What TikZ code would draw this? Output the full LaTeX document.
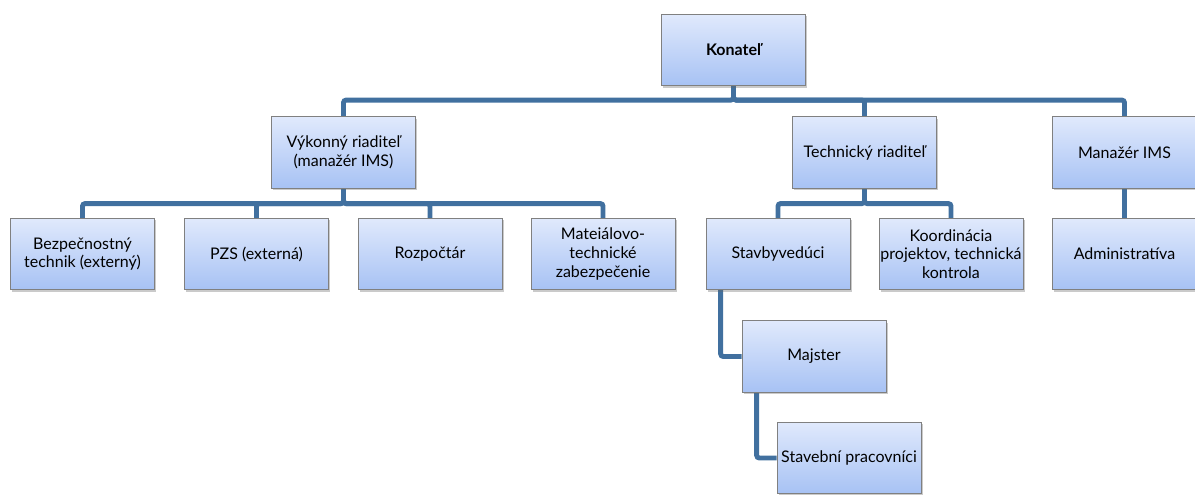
\documentclass[tikz,border=0pt]{standalone}
\usepackage{fontspec}
\setmainfont{Lato}
\usetikzlibrary{shadows,calc}
\pgfdeclarelayer{background}
\pgfsetlayers{background,main}
\definecolor{boxtop}{HTML}{E0E9FC}
\definecolor{boxbot}{HTML}{A7C2F4}
\definecolor{boxline}{HTML}{808080}
\definecolor{conncol}{HTML}{41709F}
\tikzset{
  orgbox/.style={rectangle, draw=boxline, line width=0.6pt, top color=boxtop, bottom color=boxbot,
    minimum width=108pt, minimum height=53.5pt, align=center, inner sep=1pt,
    font=\fontsize{12}{14}\selectfont,
    drop shadow={shadow xshift=1.2pt, shadow yshift=-1.6pt, opacity=0.35, fill=black!60}},
  conn/.style={draw=conncol, line width=3.7pt, rounded corners=2pt}
}
\begin{document}
\begin{tikzpicture}[x=0.75pt,y=0.75pt]
\useasboundingbox (0,0) rectangle (1195,-494);
\node[orgbox, font=\fontsize{12}{14}\selectfont\bfseries] (kon) at (733.5,-50) {Konateľ};
\node[orgbox] (vyk) at (343.5,-152.5) {Výkonný riaditeľ\\(manažér IMS)};
\node[orgbox] (tech) at (864.5,-152.5) {Technický riaditeľ};
\node[orgbox] (man) at (1124.5,-152.5) {Manažér IMS};
\node[orgbox] (bez) at (82.5,-254) {Bezpečnostný\\technik (externý)};
\node[orgbox] (pzs) at (256.5,-254) {PZS (externá)};
\node[orgbox] (roz) at (430,-254) {Rozpočtár};
\node[orgbox] (mat) at (603,-254) {Mateiálovo-\\technické\\zabezpečenie};
\node[orgbox] (stav) at (778,-254) {Stavbyvedúci};
\node[orgbox] (koor) at (951,-254) {Koordinácia\\projektov, technická\\kontrola};
\node[orgbox] (adm) at (1124.5,-254) {Administratíva};
\node[orgbox] (maj) at (814,-356.5) {Majster};
\node[orgbox] (prac) at (849,-458) {Stavební pracovníci};
\coordinate (stavout) at ([xshift=-43pt]stav.south);
\coordinate (majout) at ([xshift=-43pt]maj.south);
\begin{pgfonlayer}{background}
  \draw[conn] (kon.south) -- ++(0,-14) -| (vyk.north);
  \draw[conn] (kon.south) -- ++(0,-14) -| (tech.north);
  \draw[conn] (kon.south) -- ++(0,-14) -| (man.north);
  \draw[conn] (vyk.south) -- ++(0,-15) -| (bez.north);
  \draw[conn] (vyk.south) -- ++(0,-15) -| (pzs.north);
  \draw[conn] (vyk.south) -- ++(0,-15) -| (roz.north);
  \draw[conn] (vyk.south) -- ++(0,-15) -| (mat.north);
  \draw[conn] (tech.south) -- ++(0,-15) -| (stav.north);
  \draw[conn] (tech.south) -- ++(0,-15) -| (koor.north);
  \draw[conn] (man.south) -- (adm.north);
  \draw[conn] (stavout) |- (maj.west);
  \draw[conn] (majout) |- (prac.west);
\end{pgfonlayer}
\end{tikzpicture}
\end{document}
